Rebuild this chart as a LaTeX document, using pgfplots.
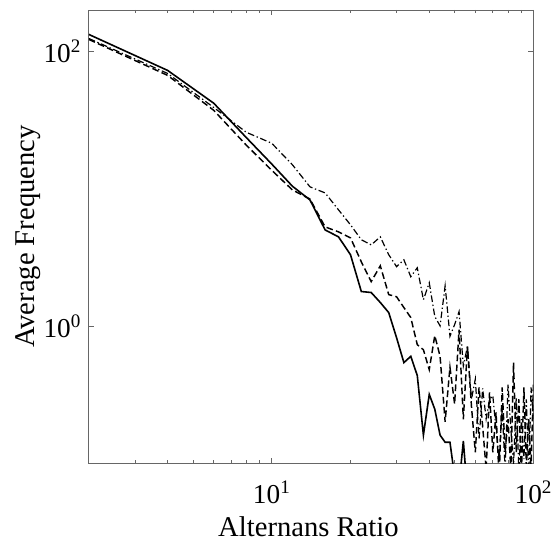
\documentclass[border=0pt]{standalone}
\usepackage{fontspec}
\setmainfont{Liberation Serif}
\usepackage{pgfplots}
\pgfplotsset{compat=1.18}

\begin{document}
\begin{tikzpicture}
\begin{axis}[
    xmode=log, ymode=log,
    scale only axis,
    width=334pt, height=340.5pt,
    xmin=2, xmax=100,
    ymin=0.1, ymax=200,
    xtick={10,100},
    xticklabels={10\textsuperscript{1},10\textsuperscript{2}},
    minor xtick={3,4,5,6,7,8,9,20,30,40,50,60,70,80,90},
    ytick={1,100},
    yticklabels={10\textsuperscript{0},10\textsuperscript{2}},
    minor ytick={},
    tick align=inside,
    major tick length=4pt,
    minor tick length=2.5pt,
    axis line style={black!60, line width=0.7pt},
    every tick/.style={black!60, line width=0.5pt},
    tick label style={font=\fontsize{20.5}{23}\selectfont},
    xticklabel style={anchor=base, yshift=-30pt},
    yticklabel style={anchor=east, xshift=-2.3pt},
    xlabel={Alternans Ratio},
    ylabel={Average Frequency},
    xlabel style={font=\fontsize{21.5}{24}\selectfont, at={(axis description cs:0.494,-0.161)}, anchor=base},
    ylabel style={font=\fontsize{21.5}{24}\selectfont, at={(axis description cs:-0.1212,0.5)}, anchor=base},
    clip=true,
]
\coordinate (sw) at (rel axis cs:0,0);
% solid
\addplot[black, line width=1.2pt] coordinates {
(2,132.7)(4,72.6)(6,41.9)(8,23.5)(10,15.1)(12,10.4)(14,8.27)(16,5.0)(18,4.45)(20,3.3)
(22,1.78)(24,1.75)(26,1.48)(28,1.25)(30,0.82)(32,0.54)(34,0.60)(36,0.435)(38,0.16)(40,0.317)
(42,0.247)(44,0.16)(46,0.142)(48,0.142)(50,0.08)(52,0.07)(54,0.145)(56,0.06)(58,0.05)(60,0.05)
(62,0.05)(64,0.05)(66,0.05)(68,0.05)(70,0.05)(72,0.05)(74,0.05)(76,0.05)(78,0.05)(80,0.05)
(82,0.05)(84,0.05)(86,0.05)(88,0.05)(90,0.05)(92,0.05)(94,0.05)(96,0.05)(98,0.05)(100,0.05)
};
% dashed
\addplot[black, line width=1.1pt, dash pattern=on 5pt off 2.5pt] coordinates {
(2,122)(4,66.8)(6,37.2)(8,20.7)(10,13.6)(12,9.77)(14,8.4)(16,5.26)(18,4.84)(20,4.38)
(22,2.93)(24,2.10)(26,2.74)(28,1.69)(30,1.63)(32,1.36)(34,1.15)(36,0.73)(38,0.67)(40,0.48)
(42,0.85)(44,0.60)(46,0.20)(48,0.50)(50,0.27)(52,0.94)(54,0.209)(56,0.71)(58,0.259)(60,0.12)
(62,0.356)(64,0.186)(66,0.09)(68,0.328)(70,0.12)(72,0.234)(74,0.077)(76,0.356)(78,0.12)(80,0.209)
(82,0.09)(84,0.54)(86,0.12)(88,0.292)(90,0.083)(92,0.356)(94,0.095)(96,0.209)(98,0.09)(100,0.375)
};
% dash-dot
\addplot[black, line width=0.9pt, dash pattern=on 5pt off 2pt on 1pt off 2pt] coordinates {
(2,124)(4,69)(6,39)(8,25.7)(10,21.4)(12,14.9)(14,10.3)(16,9.30)(18,7.0)(20,5.45)
(22,4.24)(24,3.89)(26,4.45)(28,3.30)(30,2.70)(32,3.03)(34,2.28)(36,2.65)(38,1.55)(40,2.06)
(42,1.17)(44,1.0)(46,1.96)(48,0.84)(50,1.02)(52,1.27)(54,0.51)(56,0.71)(58,0.292)(60,0.41)
(62,0.149)(64,0.35)(66,0.21)(68,0.292)(70,0.31)(72,0.177)(74,0.107)(76,0.25)(78,0.09)(80,0.375)
(82,0.177)(84,0.098)(86,0.30)(88,0.09)(90,0.209)(92,0.107)(94,0.292)(96,0.077)(98,0.356)(100,0.21)
};
\end{axis}
\pgfresetboundingbox
\path[use as bounding box] (sw) ++(-66.75pt,-60pt) rectangle ++(415.5pt,408pt);
\end{tikzpicture}
\end{document}
